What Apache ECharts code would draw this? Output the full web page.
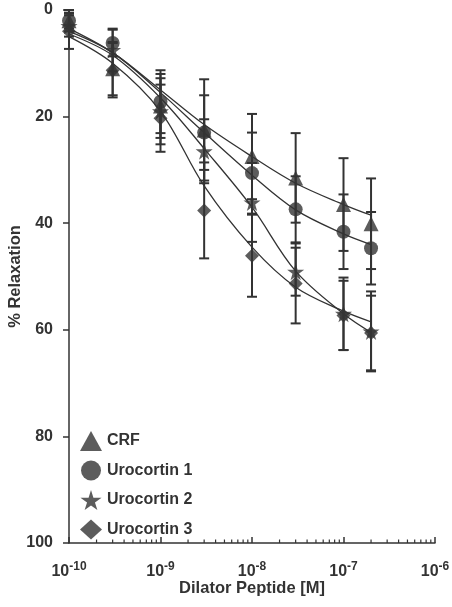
<!DOCTYPE html>
<html>
<head>
<meta charset="utf-8">
<script src="https://cdn.jsdelivr.net/npm/echarts@6/dist/echarts.min.js"></script>
<style>
html,body{margin:0;padding:0;background:#fff;}
#c{width:452px;height:607px;}
</style>
</head>
<body>
<div id="c"></div>
<script>
// ---- data ----
const xValues = [1e-10, 3e-10, 1e-9, 3e-9, 1e-8, 3e-8, 1e-7, 2e-7];
const seriesNames = ['CRF', 'Urocortin 1', 'Urocortin 2', 'Urocortin 3'];

const crfMean = [2, 11, 18, 22.5, 27.5, 31.5, 36.5, 40.1];
const crfErr  = [1.5, 5, 6, 9.5, 8, 8.4, 8.7, 8.5];
const u1Mean  = [2, 6.2, 17.2, 23, 30.6, 37.4, 41.6, 44.7];
const u1Err   = [2, 2.5, 5.9, 7, 7.6, 6.2, 7, 6.8];
const u2Mean  = [3, 7.5, 19, 26.5, 36.1, 49.1, 57, 60.3];
const u2Err   = [2, 4, 6.2, 6, 7.4, 4.5, 6.8, 7.5];
const u3Mean  = [4, 11.3, 20.3, 37.6, 46.1, 51.3, 57.3, 60.6];
const u3Err   = [3.3, 5.1, 6.3, 9, 7.7, 7.5, 6.5, 7];

// fitted curves at the same concentrations
const crfFit = [3.5, 8, 15, 21.5, 27.5, 32.5, 36.5, 38.5];
const u1Fit  = [4, 8, 15.5, 23, 31, 37.5, 42, 44];
const u2Fit  = [4.5, 8.5, 16.5, 26, 37, 49, 57, 60.5];
const u3Fit  = [5, 10, 19, 33, 44.5, 52, 56.5, 58.5];

const xTickExponents = [-10, -9, -8, -7, -6];
const yTicks = [0, 20, 40, 60, 80, 100];
const minorDecades = [-10, -9, -8, -7];
const minorMultipliers = [2, 3, 4, 5, 6, 7, 8, 9];

// ---- chart ----
const C = '#333';
const FONT = '"Liberation Sans", Arial, Helvetica, sans-serif';
const starPath = 'path://M50,0 L61,35 L98,35 L68,57 L79,91 L50,70 L21,91 L32,57 L2,35 L39,35 Z';
const symbols = ['triangle', 'circle', starPath, 'diamond'];
const symSizes = [15, 14, 17, 14];
const means = [crfMean, u1Mean, u2Mean, u3Mean];
const errs = [crfErr, u1Err, u2Err, u3Err];
const fits = [crfFit, u1Fit, u2Fit, u3Fit];

const minorTickData = [];
minorDecades.forEach(d => minorMultipliers.forEach(m => minorTickData.push([m * Math.pow(10, d)])));

function errRender(params, api) {
  const x = api.value(0), lo = api.value(1), hi = api.value(2);
  const a = api.coord([x, lo]), b = api.coord([x, hi]);
  const w = 5;
  const st = {stroke: C, lineWidth: 2};
  return {type: 'group', children: [
    {type: 'line', shape: {x1: a[0], y1: a[1], x2: b[0], y2: b[1]}, style: st},
    {type: 'line', shape: {x1: a[0] - w, y1: a[1], x2: a[0] + w, y2: a[1]}, style: st},
    {type: 'line', shape: {x1: b[0] - w, y1: b[1], x2: b[0] + w, y2: b[1]}, style: st}
  ]};
}

const series = [];
means.forEach((m, i) => {
  series.push({
    name: seriesNames[i] + ' err', type: 'custom', renderItem: errRender, z: 1,
    data: xValues.map((x, k) => [x, m[k] - errs[i][k], m[k] + errs[i][k]]),
    silent: true
  });
});
fits.forEach((f, i) => {
  series.push({
    name: seriesNames[i] + ' fit', type: 'line', smooth: 0.35, showSymbol: false, z: 2,
    lineStyle: {color: C, width: 1.3}, silent: true,
    data: xValues.map((x, k) => [x, f[k]])
  });
});
means.forEach((m, i) => {
  series.push({
    name: seriesNames[i], type: 'scatter', symbol: symbols[i], symbolSize: symSizes[i], z: 3,
    itemStyle: {color: C}, data: xValues.map((x, k) => [x, m[k]])
  });
});
series.push({
  name: 'minor ticks', type: 'custom', silent: true, z: 4,
  renderItem: function (params, api) {
    const p = api.coord([api.value(0), 100]);
    return {type: 'line', shape: {x1: p[0], y1: p[1], x2: p[0], y2: p[1] - 3.5}, style: {stroke: C, lineWidth: 1.2}};
  },
  data: minorTickData
});

const chart = echarts.init(document.getElementById('c'));
chart.setOption({
  animation: false,
  backgroundColor: '#fff',
  textStyle: {fontFamily: FONT},
  grid: {left: 69, top: 10, right: 17, bottom: 64, containLabel: false, outerBoundsMode: 'none'},
  legend: {
    data: seriesNames.map((n, i) => ({name: n, icon: i === 2 ? starPath : symbols[i]})),
    orient: 'vertical', left: 75, top: 426,
    itemWidth: 22, itemHeight: 20, itemGap: 9.5,
    textStyle: {color: C, fontSize: 16, fontWeight: 'bold', fontFamily: FONT, padding: [0, 0, 0, 0]}
  },
  xAxis: {
    type: 'log', logBase: 10, min: 1e-10, max: 1e-6, position: 'bottom',
    name: 'Dilator Peptide [M]', nameLocation: 'middle', nameGap: 37, nameMoveOverlap: false,
    nameTextStyle: {color: C, fontSize: 16.5, fontWeight: 'bold', fontFamily: FONT},
    axisLine: {onZero: false, lineStyle: {color: C, width: 1.5}},
    axisTick: {inside: true, length: 6, lineStyle: {color: C, width: 1.5}},
    splitLine: {show: false},
    axisLabel: {
      margin: 18, color: C,
      formatter: function (v) {
        const e = Math.round(Math.log10(v));
        return xTickExponents.indexOf(e) >= 0 ? '{b|10}{s|' + e + '}' : '';
      },
      rich: {
        b: {fontSize: 16, fontWeight: 'bold', color: C, fontFamily: FONT},
        s: {fontSize: 12, fontWeight: 'bold', color: C, fontFamily: FONT, padding: [0, 0, 9, 0]}
      }
    }
  },
  yAxis: {
    type: 'value', inverse: true, min: 0, max: 100, interval: 20,
    name: '% Relaxation', nameLocation: 'middle', nameGap: 45, nameRotate: 90, nameMoveOverlap: false,
    nameTextStyle: {color: C, fontSize: 16.5, fontWeight: 'bold', fontFamily: FONT},
    axisLine: {show: true, onZero: false, lineStyle: {color: C, width: 1.5}},
    axisTick: {show: true, inside: false, length: 6, lineStyle: {color: C, width: 1.5}},
    splitLine: {show: false},
    axisLabel: {margin: 16, color: C, fontSize: 16, fontWeight: 'bold', fontFamily: FONT,
      formatter: v => (yTicks.indexOf(v) >= 0 ? String(v) : '')}
  },
  series: series
});
</script>
</body>
</html>
